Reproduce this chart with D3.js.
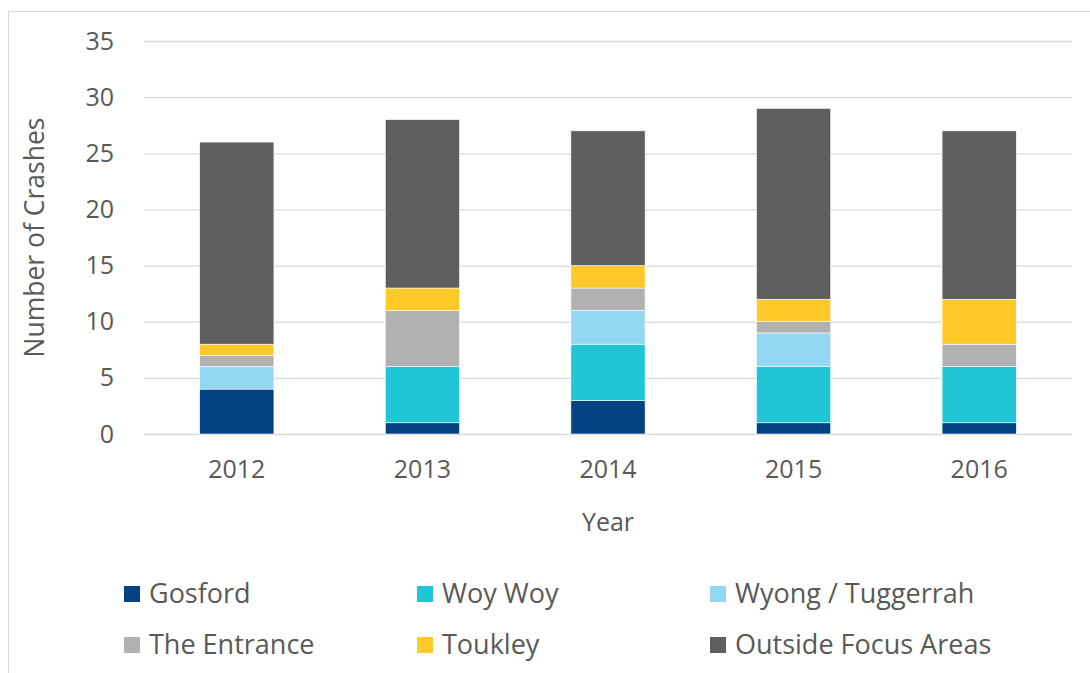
<!DOCTYPE html>
<html>
<head>
    <title>Number of Crashes by Year</title>
    <script src="https://cdnjs.cloudflare.com/ajax/libs/d3/7.8.5/d3.min.js"></script>
    <style>
        body { margin: 0; background: #fff; }
        text { font-family: "Open Sans", "Noto Sans", sans-serif; fill: #595959; }
        .grid line { stroke: #d9d9d9; stroke-width: 1.3; }
        .grid .domain { display: none; }
    </style>
</head>
<body>
<div id="chart"></div>
<script>
    // chart data
    const years = ['2012', '2013', '2014', '2015', '2016'];
    const seriesNames = ['Gosford', 'Woy Woy', 'Wyong / Tuggerrah', 'The Entrance', 'Toukley', 'Outside Focus Areas'];
    const gosford = [4, 1, 3, 1, 1];
    const woyWoy = [0, 5, 5, 5, 5];
    const wyong = [2, 0, 3, 3, 0];
    const entrance = [1, 5, 2, 1, 2];
    const toukley = [1, 2, 2, 2, 4];
    const outside = [18, 15, 12, 17, 15];
    const yTicks = [0, 5, 10, 15, 20, 25, 30, 35];
    const colors = ['#004282', '#20c6d6', '#92d8f5', '#b1b1b1', '#ffc929', '#5f5f60'];

    const seriesValues = [gosford, woyWoy, wyong, entrance, toukley, outside];
    const rows = years.map((y, i) => {
        const r = { year: y };
        seriesNames.forEach((s, k) => r[s] = seriesValues[k][i]);
        return r;
    });

    const W = 1090, H = 673;
    const margin = { top: 41, right: 18, bottom: 239, left: 144 };
    const width = W - margin.left - margin.right;
    const height = H - margin.top - margin.bottom;

    const svg = d3.select('#chart').append('svg')
        .attr('width', W).attr('height', H);

    // outer border
    svg.append('rect')
        .attr('x', 8.5).attr('y', 11.5)
        .attr('width', W).attr('height', H)
        .attr('fill', 'none').attr('stroke', '#d9d9d9');

    const g = svg.append('g').attr('transform', `translate(${margin.left},${margin.top})`);

    const x = d3.scaleBand().domain(years).range([0, width]).paddingInner(0.6).paddingOuter(0.3);
    const y = d3.scaleLinear().domain([0, 35]).range([height, 0]);

    // gridlines
    g.append('g').attr('class', 'grid')
        .call(d3.axisLeft(y).tickValues(yTicks).tickSize(-width).tickFormat(''));

    // y tick labels
    g.append('g')
        .call(d3.axisLeft(y).tickValues(yTicks).tickSize(0).tickPadding(30))
        .call(a => a.select('.domain').remove())
        .selectAll('text').style('font-size', '25px')
        .attr('font-family', null).attr('fill', null);

    // x tick labels
    g.append('g').attr('transform', `translate(0,${height})`)
        .call(d3.axisBottom(x).tickSize(0).tickPadding(26))
        .call(a => a.select('.domain').remove())
        .selectAll('text').style('font-size', '25px')
        .attr('font-family', null).attr('fill', null);

    // stacked bars
    const stacked = d3.stack().keys(seriesNames)(rows);
    g.selectAll('.series').data(stacked).enter().append('g')
        .attr('fill', (d, i) => colors[i])
        .selectAll('rect').data(d => d).enter().append('rect')
        .attr('x', d => x(d.data.year))
        .attr('width', x.bandwidth())
        .attr('y', d => y(d[1]))
        .attr('height', d => y(d[0]) - y(d[1]))
        .attr('stroke', '#fff').attr('stroke-width', 0.6);

    // axis titles
    svg.append('text')
        .attr('transform', `translate(44,${margin.top + height / 2}) rotate(-90)`)
        .attr('text-anchor', 'middle')
        .style('font-size', '26.5px')
        .text('Number of Crashes');

    svg.append('text')
        .attr('x', margin.left + width / 2)
        .attr('y', 531)
        .attr('text-anchor', 'middle')
        .style('font-size', '25px')
        .text('Year');

    // legend
    const legendX = [124, 417, 710];
    const legendY = [594, 645];
    const legend = svg.append('g').selectAll('g').data(seriesNames).enter().append('g')
        .attr('transform', (d, i) => `translate(${legendX[i % 3]},${legendY[Math.floor(i / 3)]})`);
    legend.append('rect')
        .attr('x', 0).attr('y', -8).attr('width', 16).attr('height', 16)
        .attr('fill', (d, i) => colors[i]);
    legend.append('text')
        .attr('x', 25).attr('y', 0).attr('dy', '0.35em')
        .style('font-size', '27px')
        .text(d => d);
</script>
</body>
</html>
